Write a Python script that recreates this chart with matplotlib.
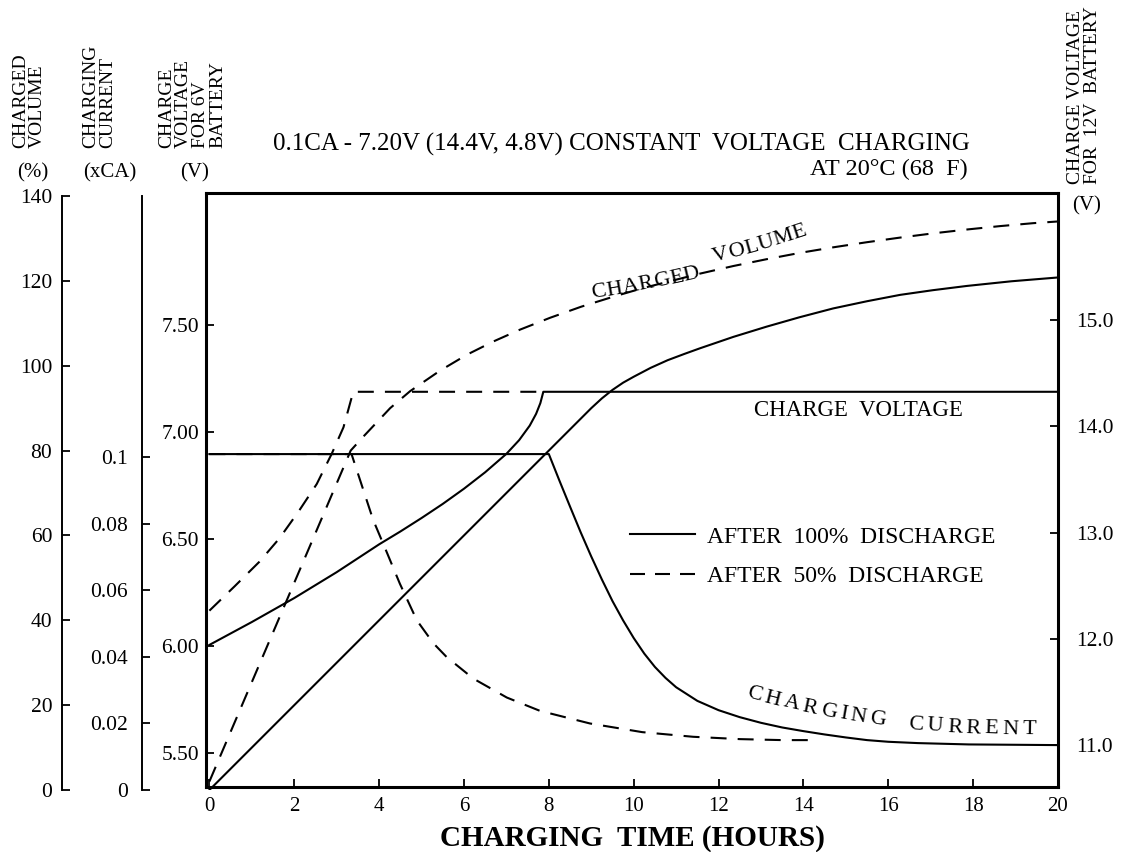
import math
import matplotlib
matplotlib.use("Agg")
import matplotlib.pyplot as plt
from matplotlib.lines import Line2D

plt.rcParams['font.family'] = ['Liberation Serif', 'DejaVu Serif']
plt.rcParams['lines.scale_dashes'] = False

# ---------------- data ----------------
hour_ticks = [0, 2, 4, 6, 8, 10, 12, 14, 16, 18, 20]
volume_ticks = [0, 20, 40, 60, 80, 100, 120, 140]
current_ticks = [0, 0.02, 0.04, 0.06, 0.08, 0.1]
current_tick_labels = ['0', '0.02', '0.04', '0.06', '0.08', '0.1']
volt6_ticks = [5.5, 6.0, 6.5, 7.0, 7.5]
volt6_tick_labels = ['5.50', '6.00', '6.50', '7.00', '7.50']
volt12_ticks = [11, 12, 13, 14, 15]
volt12_tick_labels = ['11.0', '12.0', '13.0', '14.0', '15.0']

# after 100% discharge (solid)
volt100_h = [0, 1.0, 2.0, 3.0, 4.0, 4.5, 5.0, 5.5, 6.0, 6.5, 7.0, 7.3, 7.55, 7.7, 7.8, 7.87, 20]
volt100 = [6.005, 6.112, 6.224, 6.345, 6.475, 6.535, 6.598, 6.664, 6.735, 6.812, 6.898,
           6.962, 7.03, 7.085, 7.135, 7.188, 7.188]
vol100_h = [0, 8.0, 9.0, 9.25, 9.5, 9.75, 10.0, 10.4, 10.8, 11.2, 11.56, 12.35, 13.13, 13.9,
            14.7, 15.5, 16.28, 17.05, 17.85, 18.9, 20]
vol100 = [0, 80, 90, 92.3, 94.3, 96.0, 97.4, 99.5, 101.3, 102.8, 104.1, 106.8, 109.2, 111.4,
          113.5, 115.2, 116.7, 117.8, 118.8, 119.9, 120.8]
cur100_h = [0, 8.0, 8.25, 8.5, 8.75, 9.0, 9.25, 9.5, 9.75, 10.0, 10.25, 10.5, 10.75, 11.0,
            11.5, 12.0, 12.5, 13.0, 13.5, 14.0, 14.5, 15.0, 15.5, 16.0, 16.7, 17.9, 20]
cur100 = [0.101, 0.101, 0.093, 0.0852, 0.0775, 0.0702, 0.0633, 0.0568, 0.0510, 0.0457,
          0.0410, 0.0370, 0.0337, 0.0309, 0.0268, 0.0240, 0.0219, 0.0202, 0.0188, 0.0177,
          0.0167, 0.0158, 0.0150, 0.0145, 0.0141, 0.0137, 0.0135]

# after 50% discharge (dashed)
volt50_h = [0, 0.60, 1.18, 1.65, 2.10, 2.53, 2.88, 3.16, 3.39, 7.87]
volt50 = [6.165, 6.280, 6.394, 6.503, 6.628, 6.757, 6.897, 7.022, 7.188, 7.188]
vol50_h = [0, 3.33, 3.62, 4.26, 4.73, 5.43, 6.07, 6.69, 7.32, 8.03, 8.76, 9.53, 10.22, 10.93,
           11.56, 12.35, 13.13, 13.92, 14.7, 15.49, 16.28, 17.06, 17.85, 18.63, 19.42, 20]
vol50 = [2, 80, 83.2, 90.0, 94.0, 98.8, 102.6, 105.7, 108.5, 111.3, 113.9, 116.3, 118.3, 120.1,
         121.7, 123.5, 125.1, 126.6, 127.9, 129.1, 130.2, 131.2, 132.1, 132.9, 133.6, 134.0]
cur50_h = [0, 3.35, 3.86, 4.18, 4.49, 4.89, 5.28, 5.59, 6.22, 7.01, 7.79, 8.97, 10.2, 11.4, 12.5, 13.5, 14.2]
cur50 = [0.101, 0.101, 0.0812, 0.0715, 0.062, 0.051, 0.0441, 0.0400, 0.0335, 0.0278, 0.0238,
         0.0200, 0.0174, 0.0160, 0.0153, 0.0150, 0.0150]

legend_labels = ['AFTER  100%  DISCHARGE', 'AFTER  50%  DISCHARGE']

# ---------------- layout ----------------
W, H = 1122, 852
fig = plt.figure(figsize=(W / 100, H / 100), dpi=100)


def rect(l, t, r, b):
    return [l / W, 1 - b / H, (r - l) / W, (b - t) / H]


def fx(x):
    return x / W


def fy(y):
    return 1 - y / H


PT = 0.72  # points per pixel at 100 dpi
LW = 1.5
DASH = (11.5, 8.0)
TICKFS = 15.5

ax = fig.add_axes(rect(206, 193, 1058, 787))
axp = fig.add_axes(rect(206, 196, 1058, 790), sharex=ax)
axc = fig.add_axes(rect(206, 196, 1058, 790), sharex=ax)
ax12 = ax.twinx()

ax.set_xlim(-0.08, 20)
ax.set_ylim(5.341, 8.117)
ax12.set_ylim(10.604, 16.198)
axp.set_ylim(0, 140)
axc.set_ylim(0, 0.1786)

for s in ax.spines.values():
    s.set_linewidth(2.2)
for s in ax12.spines.values():
    s.set_visible(False)

for a, off in ((axp, 144), (axc, 64)):
    a.patch.set_visible(False)
    for k in ('top', 'right', 'bottom'):
        a.spines[k].set_visible(False)
    a.spines['left'].set_position(('outward', off * PT))
    a.spines['left'].set_linewidth(1.4)
    a.tick_params(axis='x', bottom=False, labelbottom=False)

ax.set_xticks(hour_ticks)
ax.set_xticklabels([str(t) for t in hour_ticks])
ax.set_yticks(volt6_ticks)
ax.set_yticklabels(volt6_tick_labels)
ax12.set_yticks(volt12_ticks)
ax12.set_yticklabels(volt12_tick_labels)
axp.set_yticks(volume_ticks)
axp.set_yticklabels([str(v) for v in volume_ticks])
axc.set_yticks(current_ticks)
axc.set_yticklabels(current_tick_labels)

ax.tick_params(axis='x', direction='in', length=6, width=1.3, pad=7, labelsize=15)
ax.tick_params(axis='y', direction='in', length=6, width=1.3, pad=5, labelsize=TICKFS)
ax12.tick_params(axis='y', direction='in', length=6, width=1.3, pad=13, labelsize=TICKFS)
axp.tick_params(axis='y', direction='in', length=6, width=1.3, pad=7, labelsize=TICKFS)
axc.tick_params(axis='y', direction='in', length=6, width=1.3, pad=10, labelsize=TICKFS)

# ---------------- curves ----------------
kw_s = dict(color='black', lw=LW, solid_joinstyle='round')
kw_d = dict(color='black', lw=LW, linestyle=(0, DASH))
ax.plot(volt100_h, volt100, **kw_s)
ax.plot(volt50_h, volt50, **kw_d)
axp.plot(vol100_h, vol100, **kw_s)
axp.plot(vol50_h, vol50, **kw_d)
axc.plot(cur100_h, cur100, **kw_s)
axc.plot(cur50_h, cur50, **kw_d)

# legend
handles = [Line2D([], [], color='black', lw=LW),
           Line2D([], [], color='black', lw=LW, linestyle=(0, (10.8, 7.2)))]
ax.legend(handles, legend_labels, loc='upper left', bbox_to_anchor=(fx(630), fy(526)),
          bbox_transform=fig.transFigure, frameon=False, fontsize=17, handlelength=2.75,
          handletextpad=0.5, labelspacing=0.78, borderpad=0, borderaxespad=0)

# ---------------- texts ----------------
ax.set_xlabel('CHARGING  TIME (HOURS)', fontsize=21, fontweight='bold', labelpad=7)

fig.text(fx(273), fy(151), '0.1CA - 7.20V (14.4V, 4.8V) CONSTANT  VOLTAGE  CHARGING',
         ha='left', va='baseline', fontsize=18)
fig.text(fx(968), fy(175), 'AT 20°C (68  F)', ha='right', va='baseline', fontsize=17.5)

rot_kw = dict(rotation=90, rotation_mode='anchor', ha='left', va='center',
              multialignment='left', fontsize=14, linespacing=1.0)
fig.text(fx(29), fy(148), 'CHARGED\nVOLUME', **rot_kw)
fig.text(fx(99), fy(148), 'CHARGING\nCURRENT', **rot_kw)
fig.text(fx(192), fy(148), 'CHARGE\nVOLTAGE\nFOR 6V\nBATTERY', **rot_kw)
fig.text(fx(1084), fy(184), 'CHARGE VOLTAGE\nFOR  12V  BATTERY', **rot_kw)
for x, s in ((33, '(%)'), (110, '(xCA)'), (195, '(V)')):
    fig.text(fx(x), fy(173), s, ha='center', va='center', fontsize=15)
fig.text(fx(1087), fy(206), '(V)', ha='center', va='center', fontsize=15)

fig.text(fx(858), fy(411), 'CHARGE  VOLTAGE', ha='center', va='center', fontsize=16.5)

renderer = fig.canvas.get_renderer()


def letters(word, x0, y0, a0, a1, size, track):
    # place letters one by one along a gently curving baseline (pixel coords)
    x, y = x0, y0
    n = len(word)
    for i, ch in enumerate(word):
        ang = a0 + (a1 - a0) * (i / max(n - 1, 1))
        fig.text(fx(x), fy(y), ch, rotation=ang, rotation_mode='anchor',
                 ha='left', va='baseline', fontsize=size)
        tmp = fig.text(0, 0, ch, fontsize=size)
        w = tmp.get_window_extent(renderer).width
        tmp.remove()
        adv = w + track
        x += adv * math.cos(math.radians(ang))
        y -= adv * math.sin(math.radians(ang))


letters('CHARGED', 592, 298, 9, 13, 16, 0.5)
letters('VOLUME', 714, 262, 14, 18, 16, 0.5)
letters('CHARGING', 746, 697, -15, -8, 16, 3.5)
letters('CURRENT', 908, 729, -4, -1, 16, 4.0)

fig.savefig('out.png', dpi=100)
